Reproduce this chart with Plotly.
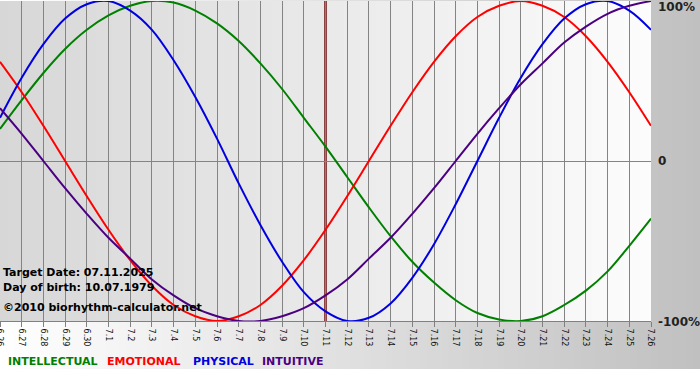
import plotly.graph_objects as go

# ---- data ----
days = ["6.26", "6.27", "6.28", "6.29", "6.30",
        "7.1", "7.2", "7.3", "7.4", "7.5", "7.6", "7.7", "7.8", "7.9", "7.10",
        "7.11", "7.12", "7.13", "7.14", "7.15", "7.16", "7.17", "7.18", "7.19",
        "7.20", "7.21", "7.22", "7.23", "7.24", "7.25", "7.26"]

intellectual = [0.20, 0.38, 0.55, 0.70, 0.82, 0.91, 0.97, 1.00, 0.99, 0.94,
                0.86, 0.75, 0.61, 0.45, 0.27, 0.09, -0.10, -0.29, -0.47, -0.63,
                -0.76, -0.87, -0.95, -0.99, -1.00, -0.97, -0.90, -0.81, -0.69,
                -0.53, -0.36]
emotional = [0.62, 0.43, 0.22, 0.00, -0.22, -0.43, -0.62, -0.78, -0.90, -0.97,
             -1.00, -0.97, -0.90, -0.78, -0.62, -0.43, -0.22, 0.00, 0.22, 0.43,
             0.62, 0.78, 0.90, 0.97, 1.00, 0.97, 0.90, 0.78, 0.62, 0.43, 0.22]
physical = [0.27, 0.52, 0.73, 0.89, 0.98, 1.00, 0.94, 0.82, 0.63, 0.40,
            0.14, -0.14, -0.40, -0.63, -0.82, -0.94, -1.00, -0.98, -0.89, -0.73,
            -0.52, -0.27, 0.00, 0.27, 0.52, 0.73, 0.89, 0.98, 1.00, 0.94, 0.82]
intuitive = [0.33, 0.17, 0.00, -0.17, -0.33, -0.48, -0.61, -0.74, -0.84, -0.92,
             -0.97, -1.00, -1.00, -0.97, -0.92, -0.84, -0.74, -0.61, -0.48, -0.33,
             -0.17, 0.00, 0.17, 0.33, 0.48, 0.61, 0.74, 0.84, 0.92, 0.97, 1.00]

series_names = ["INTELLECTUAL", "EMOTIONAL", "PHYSICAL", "INTUITIVE"]
series_colors = ["#008000", "#ff0000", "#0000e0", "#4b0082"]
target_day = "7.11"
info_lines = ["Target Date: 07.11.2025", "Day of birth: 10.07.1979",
              "\u00a92010 biorhythm-calculator.net"]

# ---- geometry helpers (pixels -> paper) ----
W, H = 700, 380
PL, PR, PT, PB = 0, 651, 1, 321


def px_x(p):
    return (p - PL) / (PR - PL)


def px_y(p):
    return (PB - p) / (PB - PT)


x = list(range(len(days)))

fig = go.Figure()
for name, vals, col in zip(series_names, [intellectual, emotional, physical, intuitive], series_colors):
    fig.add_trace(go.Scatter(x=x, y=vals, mode="lines", name=name,
                             line=dict(color=col, width=2, shape="spline"),
                             hoverinfo="skip"))

shapes = []
# outer gradient: white -> #c0c0c0 across the figure
step = 7
for p in range(0, W, step):
    t = (p + step / 2) / W
    g = int(round(255 - (255 - 192) * t))
    shapes.append(dict(type="rect", xref="paper", yref="paper", layer="below",
                       x0=px_x(p), x1=px_x(min(p + step, W) + 0.5),
                       y0=px_y(369), y1=px_y(-1),
                       fillcolor=f"rgb({g},{g},{g})", line=dict(width=0)))
# plot area gradient: #d7d7d7 -> #fcfcfc
step = 8
for p in range(PL, PR, step):
    t = (p + step / 2 - PL) / (PR - PL)
    g = int(round(215 + (252 - 215) * t))
    shapes.append(dict(type="rect", xref="paper", yref="paper", layer="below",
                       x0=px_x(p), x1=px_x(min(p + step, PR) + (0.5 if p + step < PR else 0)),
                       y0=0, y1=1,
                       fillcolor=f"rgb({g},{g},{g})", line=dict(width=0)))
# target-day marker
ti = days.index(target_day)
shapes.append(dict(type="line", xref="x", yref="paper", layer="between",
                   x0=ti, x1=ti, y0=0, y1=1,
                   line=dict(color="#6a0c0c", width=2.5)))

annotations = []
for txt, py in zip(info_lines, [272, 287, 307]):
    annotations.append(dict(text="<b>" + txt + "</b>", x=px_x(1), y=px_y(py),
                            xref="paper", yref="paper",
                            xanchor="left", yanchor="middle", showarrow=False,
                            font=dict(family="DejaVu Sans", size=11, color="#000000")))
for txt, py in zip(["100%", "0", "-100%"], [7, 161, 322]):
    annotations.append(dict(text="<b>" + txt + "</b>", x=px_x(656), y=px_y(py),
                            xref="paper", yref="paper", xanchor="left", yanchor="middle",
                            showarrow=False,
                            font=dict(family="DejaVu Sans", size=12, color="#222222")))
for name, col, p in zip(series_names, series_colors, [6, 105, 191, 260]):
    annotations.append(dict(text="<b>" + name + "</b>", x=px_x(p), y=px_y(361),
                            xref="paper", yref="paper", xanchor="left", yanchor="middle",
                            showarrow=False,
                            font=dict(family="DejaVu Sans", size=11, color=col)))

fig.update_layout(
    width=W, height=H,
    margin=dict(l=PL, r=W - PR, t=PT, b=H - PB, pad=0),
    paper_bgcolor="#ffffff", plot_bgcolor="rgba(0,0,0,0)",
    showlegend=False,
    shapes=shapes, annotations=annotations,
    xaxis=dict(range=[0, len(days) - 1], tickmode="array", tickvals=x, ticktext=days,
               tickangle=90, ticks="outside", ticklen=5, tickcolor="#808080",
               showgrid=True, gridcolor="#848484", gridwidth=1,
               showline=True, linecolor="#808080", linewidth=1,
               zeroline=False, ticklabeloverflow="allow", automargin=False,
               tickfont=dict(family="DejaVu Sans", size=8, color="#111111"),
               fixedrange=True),
    yaxis=dict(range=[-1, 1], showgrid=False, showticklabels=False, ticks="",
               zeroline=True, zerolinecolor="#848484", zerolinewidth=1,
               showline=False, fixedrange=True, automargin=False),
)

fig.write_html("out.html", config={"displayModeBar": False},
               post_script="document.body.style.margin='0';document.body.style.padding='0';")
